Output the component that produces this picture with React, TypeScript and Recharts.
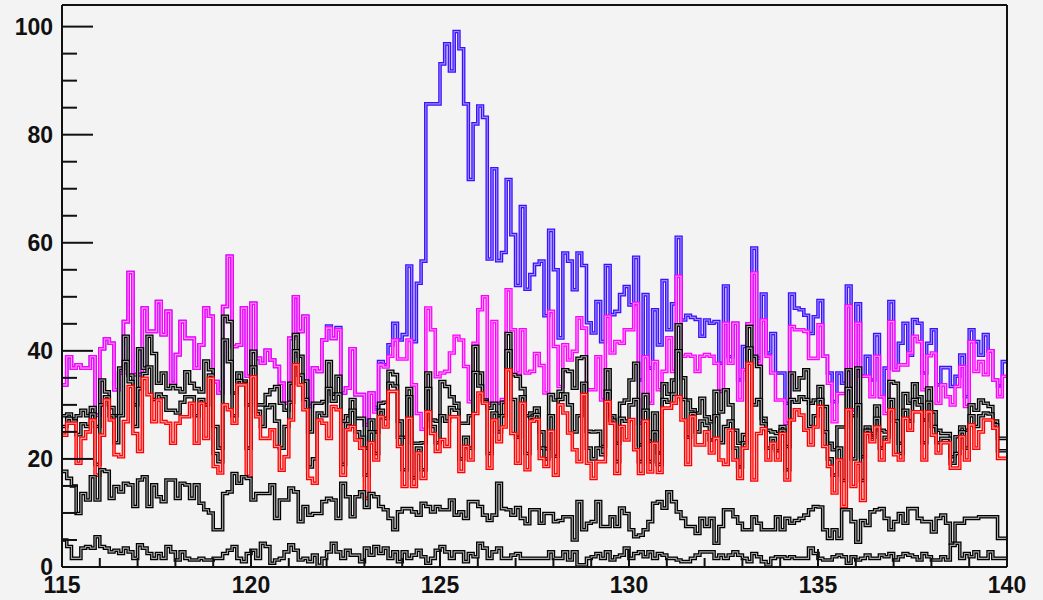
import React from 'react';
import { ComposedChart, Line, XAxis, YAxis } from 'recharts';

const X_MIN = 115;
const X_MAX = 140;
const BIN_WIDTH = 0.125;
const Y_MAX = 104;
const X_TICKS = Array.from({ length: 26 }, (_, i) => 115 + i);
const Y_TICKS = Array.from({ length: 21 }, (_, i) => i * 5);

// stacked histogram heights (top of each layer), 200 bins of 0.125
const BLUE = [
  33.7, 38.9, 36.8, 37.4, 36.8, 36.8, 38.9, 28.1, 40.4, 42.2,
  41.4, 32.8, 35.9, 45.4, 54.5, 35.6, 35.6, 47.9, 43.6, 43.6,
  49.1, 43.0, 47.3, 34.0, 39.3, 45.4, 42.3, 42.3, 36.8, 41.1,
  47.9, 46.4, 34.3, 32.2, 48.2, 57.5, 40.8, 41.1, 47.9, 35.3,
  48.8, 38.6, 37.7, 40.1, 38.3, 37.1, 34.0, 30.3, 42.3, 50.0,
  43.6, 46.4, 29.7, 36.8, 36.2, 42.0, 44.6, 42.3, 44.3, 32.2,
  33.1, 40.4, 31.9, 31.9, 26.3, 32.2, 29.5, 38.0, 37.4, 41.1,
  45.1, 42.0, 43.0, 55.7, 41.7, 52.5, 56.6, 85.7, 85.7, 85.7,
  93.1, 96.8, 91.8, 99.1, 95.9, 85.7, 71.7, 82.0, 85.3, 83.2,
  57.0, 73.7, 56.7, 58.2, 71.7, 61.5, 52.1, 66.7, 51.4, 54.1,
  56.0, 56.6, 46.5, 62.3, 55.0, 42.4, 58.1, 56.6, 51.3, 58.1,
  55.8, 45.2, 43.3, 49.1, 41.7, 55.8, 46.7, 47.3, 50.4, 51.9,
  48.5, 57.3, 34.6, 50.4, 36.8, 47.6, 41.1, 53.0, 43.9, 48.7,
  61.0, 45.7, 46.6, 46.2, 45.8, 42.7, 45.7, 45.1, 45.4, 37.7,
  52.0, 38.9, 45.1, 34.6, 40.8, 45.0, 59.0, 38.6, 50.5, 39.6,
  43.2, 35.9, 35.9, 30.3, 50.5, 47.9, 47.6, 46.6, 43.2, 46.3,
  49.3, 39.0, 35.9, 30.6, 35.9, 34.0, 52.0, 29.1, 48.7, 35.3,
  39.0, 34.6, 43.0, 31.5, 36.8, 49.1, 36.5, 41.4, 45.1, 39.2,
  45.8, 45.1, 35.9, 41.4, 43.9, 33.7, 36.9, 36.9, 33.4, 35.3,
  39.2, 31.5, 43.9, 41.7, 39.2, 43.0, 40.0, 34.6, 33.5, 38.0,
];

const MAGENTA = [
  33.7, 38.9, 36.8, 37.4, 36.8, 36.8, 38.9, 28.1, 40.4, 42.2,
  41.4, 32.8, 35.9, 45.4, 54.5, 35.6, 35.6, 47.9, 43.6, 43.6,
  49.1, 43.0, 47.3, 34.0, 39.3, 45.4, 42.3, 42.3, 36.8, 41.1,
  47.9, 46.4, 34.3, 32.2, 48.2, 57.5, 40.8, 41.1, 47.9, 35.3,
  48.8, 38.6, 37.7, 40.1, 38.3, 37.1, 34.0, 30.3, 42.3, 50.0,
  43.6, 46.4, 29.7, 36.8, 36.2, 42.0, 44.2, 42.3, 43.9, 32.2,
  33.1, 40.4, 31.9, 31.9, 26.3, 32.2, 28.7, 37.4, 37.0, 39.0,
  42.0, 38.5, 38.5, 42.0, 33.7, 28.4, 25.5, 47.9, 43.9, 35.2,
  35.9, 36.2, 39.6, 42.7, 42.0, 37.1, 30.6, 41.4, 47.6, 50.0,
  30.3, 45.4, 30.3, 31.0, 51.3, 43.9, 35.9, 43.9, 35.9, 36.2,
  39.5, 37.3, 32.2, 47.3, 40.8, 33.4, 41.1, 38.3, 39.9, 46.1,
  44.2, 32.8, 32.8, 38.9, 30.9, 46.4, 39.6, 41.7, 41.4, 43.9,
  43.9, 48.8, 26.6, 38.9, 30.3, 38.0, 32.8, 36.2, 42.4, 36.2,
  53.8, 39.0, 39.3, 39.0, 36.2, 39.0, 39.3, 39.0, 37.7, 32.5,
  45.1, 37.7, 45.1, 30.9, 36.5, 45.0, 54.4, 37.7, 45.7, 39.0,
  35.9, 30.9, 30.9, 26.6, 44.5, 43.9, 43.9, 43.6, 38.6, 38.6,
  44.8, 39.0, 34.0, 26.9, 32.1, 32.1, 48.3, 29.1, 45.1, 35.3,
  35.3, 31.5, 39.0, 31.5, 28.4, 45.4, 36.5, 37.4, 37.4, 39.6,
  42.7, 41.7, 32.8, 39.1, 39.6, 30.3, 33.7, 31.5, 30.0, 33.4,
  37.1, 29.7, 41.7, 36.2, 38.0, 35.6, 40.0, 34.6, 31.5, 35.3,
];

const BLACK_TOP = [
  28.0, 28.3, 27.4, 28.0, 29.0, 28.0, 29.5, 26.0, 34.6, 32.4,
  29.5, 28.0, 36.8, 42.7, 35.5, 30.0, 40.4, 36.8, 42.7, 39.5,
  34.0, 35.9, 33.0, 33.6, 33.0, 32.4, 36.1, 34.0, 33.0, 32.4,
  38.1, 36.5, 26.0, 22.0, 46.4, 45.4, 32.2, 35.9, 34.4, 30.0,
  39.9, 30.0, 30.0, 31.9, 32.8, 33.4, 30.3, 29.0, 34.0, 43.0,
  39.0, 34.4, 25.0, 30.3, 30.3, 30.6, 38.0, 32.0, 35.3, 27.0,
  28.0, 31.0, 27.5, 27.5, 22.0, 27.2, 25.0, 30.3, 30.5, 36.2,
  35.6, 27.0, 24.0, 33.0, 22.9, 22.9, 23.0, 35.9, 27.2, 27.0,
  34.3, 33.4, 31.5, 30.3, 26.6, 26.6, 28.0, 40.8, 35.9, 30.9,
  29.4, 30.3, 28.0, 30.5, 43.2, 35.6, 35.3, 33.0, 28.0, 28.5,
  29.4, 25.0, 21.9, 31.9, 30.9, 32.5, 36.5, 36.2, 33.1, 38.6,
  38.9, 25.1, 25.0, 25.1, 22.3, 36.5, 28.0, 22.9, 30.3, 30.9,
  34.6, 37.7, 22.6, 31.9, 23.3, 28.5, 21.1, 33.9, 32.0, 34.6,
  44.8, 35.0, 30.9, 29.1, 28.5, 31.2, 27.8, 26.9, 32.5, 28.7,
  32.8, 30.0, 25.3, 22.9, 24.5, 44.5, 39.0, 37.1, 27.5, 25.3,
  25.0, 24.7, 26.0, 22.3, 35.9, 32.8, 35.0, 36.5, 30.3, 30.9,
  33.4, 29.7, 22.9, 21.7, 25.9, 25.9, 36.5, 28.0, 36.8, 20.4,
  25.9, 24.7, 29.8, 25.3, 25.0, 34.3, 34.0, 22.9, 32.1, 30.3,
  33.9, 31.5, 27.2, 33.1, 28.7, 25.3, 24.7, 24.7, 20.4, 24.1,
  25.9, 25.3, 30.0, 29.0, 30.9, 30.3, 29.7, 27.0, 23.8, 23.8,
];

const BLACK_UPPER = [
  26.0, 27.5, 27.0, 24.5, 26.5, 26.0, 28.3, 19.0, 30.0, 31.5,
  28.0, 23.0, 28.0, 38.0, 34.3, 26.0, 33.0, 35.8, 37.0, 31.0,
  32.0, 31.5, 29.0, 29.0, 28.5, 30.5, 31.5, 31.5, 28.0, 31.0,
  30.0, 35.5, 21.0, 19.5, 42.0, 38.0, 28.0, 34.5, 34.0, 22.0,
  37.0, 28.8, 26.0, 29.5, 30.0, 27.0, 22.0, 26.0, 30.5, 40.0,
  35.5, 31.0, 18.5, 20.0, 28.5, 28.0, 33.0, 30.7, 32.0, 19.0,
  26.5, 29.0, 25.0, 24.0, 17.0, 25.0, 21.0, 29.0, 27.5, 34.0,
  33.5, 24.0, 18.0, 31.5, 16.5, 22.0, 18.0, 33.0, 26.0, 23.0,
  28.0, 27.0, 29.5, 29.0, 20.0, 24.0, 22.0, 36.0, 33.5, 30.6,
  21.0, 28.5, 25.0, 28.0, 40.0, 31.0, 24.0, 31.5, 21.0, 27.7,
  28.2, 22.0, 20.0, 28.0, 20.5, 31.0, 32.0, 30.0, 25.0, 28.0,
  34.0, 22.0, 20.0, 22.0, 20.8, 32.5, 27.2, 19.5, 27.5, 27.0,
  30.0, 31.0, 19.5, 29.0, 19.5, 25.0, 19.0, 31.0, 30.5, 32.0,
  40.0, 31.0, 24.0, 28.4, 25.0, 27.0, 26.2, 23.5, 28.0, 23.0,
  26.0, 27.0, 22.0, 18.5, 23.0, 40.5, 30.0, 31.0, 26.5, 22.0,
  23.8, 21.5, 25.3, 18.0, 31.0, 30.5, 31.5, 31.0, 26.0, 28.0,
  31.0, 25.0, 20.0, 17.0, 22.0, 16.0, 33.0, 20.0, 30.0, 16.0,
  25.3, 24.0, 27.5, 22.0, 24.0, 31.0, 27.0, 21.0, 29.0, 27.0,
  31.0, 30.0, 23.0, 30.5, 26.0, 23.0, 23.8, 23.8, 19.2, 21.0,
  25.0, 22.0, 28.0, 26.0, 28.0, 28.5, 28.3, 26.3, 21.5, 21.5,
];

const RED = [
  24.4, 26.6, 26.6, 19.2, 23.8, 25.0, 27.2, 17.0, 24.4, 30.9,
  27.2, 20.8, 20.4, 26.9, 33.4, 24.7, 21.4, 34.9, 31.9, 26.9,
  30.9, 26.9, 26.6, 22.9, 26.6, 27.8, 27.8, 30.3, 22.9, 30.3,
  23.8, 34.9, 18.6, 17.4, 30.0, 29.1, 26.6, 33.7, 33.7, 16.8,
  35.2, 27.8, 23.8, 23.8, 25.4, 22.3, 17.9, 20.4, 27.2, 37.4,
  33.7, 29.1, 16.4, 15.5, 27.2, 26.6, 23.8, 29.7, 29.1, 17.0,
  25.4, 26.0, 23.5, 22.0, 12.7, 23.0, 19.8, 27.8, 25.9, 32.5,
  32.5, 22.3, 14.9, 27.5, 14.9, 21.1, 16.4, 28.7, 24.7, 21.4,
  23.6, 22.3, 27.8, 27.8, 17.7, 22.3, 19.8, 28.4, 32.2, 30.3,
  18.3, 27.2, 23.2, 25.9, 36.5, 24.7, 19.2, 30.3, 18.0, 27.0,
  27.3, 20.1, 18.6, 25.1, 17.0, 30.0, 28.5, 24.8, 21.7, 19.5,
  31.9, 19.2, 16.4, 19.5, 19.5, 30.6, 26.6, 17.3, 26.0, 23.5,
  27.3, 21.7, 17.3, 27.0, 17.6, 22.9, 17.5, 29.4, 29.4, 30.3,
  31.5, 27.2, 19.0, 27.8, 22.6, 22.6, 25.0, 21.1, 23.8, 19.8,
  19.0, 25.3, 19.8, 16.4, 22.0, 37.7, 16.1, 24.7, 25.6, 19.8,
  22.9, 19.8, 24.7, 16.1, 27.2, 29.1, 28.1, 25.3, 22.6, 25.9,
  29.7, 22.3, 18.6, 13.7, 19.8, 11.2, 29.1, 14.9, 19.2, 12.3,
  24.7, 23.2, 25.9, 19.8, 23.2, 29.1, 20.8, 19.8, 27.5, 25.3,
  28.7, 28.7, 19.8, 28.7, 24.4, 21.1, 23.0, 23.0, 18.3, 18.3,
  24.1, 19.8, 26.3, 22.0, 25.0, 27.2, 27.2, 25.7, 20.1, 20.1,
];

const BLACK_MID = [
  17.7, 16.4, 15.0, 9.9, 13.6, 12.4, 16.7, 12.4, 18.0, 17.7,
  12.7, 14.9, 13.9, 15.5, 15.2, 11.2, 16.1, 16.7, 11.2, 15.2,
  13.0, 12.1, 16.1, 16.1, 12.7, 15.5, 15.2, 12.7, 15.2, 11.8,
  10.6, 10.0, 6.9, 6.9, 13.6, 13.9, 17.3, 15.5, 16.7, 16.4,
  12.4, 13.6, 13.6, 13.6, 15.2, 9.0, 12.4, 12.4, 14.6, 13.9,
  8.4, 11.2, 9.6, 9.9, 9.9, 12.1, 12.7, 12.4, 9.0, 15.5,
  13.0, 9.3, 13.0, 13.9, 11.0, 13.6, 13.0, 11.2, 10.6, 9.0,
  6.9, 10.2, 10.8, 10.8, 10.2, 9.6, 11.8, 11.2, 10.2, 11.2,
  10.6, 10.6, 12.4, 9.6, 10.2, 9.0, 12.1, 12.1, 11.2, 9.6,
  8.6, 9.6, 15.5, 10.8, 10.6, 9.6, 11.0, 9.0, 8.0, 10.6,
  10.6, 8.1, 9.9, 9.9, 8.4, 8.6, 9.3, 9.3, 5.0, 12.1,
  6.9, 8.1, 8.4, 12.1, 7.5, 7.5, 9.3, 7.5, 10.9, 9.9,
  6.9, 5.6, 5.9, 6.9, 8.4, 11.8, 12.1, 10.9, 13.9, 12.1,
  10.2, 9.0, 7.5, 7.5, 6.2, 9.0, 7.5, 9.0, 4.4, 7.5,
  10.6, 10.6, 9.3, 8.1, 6.9, 6.9, 9.3, 8.1, 6.9, 6.9,
  6.9, 9.3, 6.9, 9.0, 8.1, 8.6, 9.0, 9.6, 10.6, 11.2,
  11.1, 6.9, 5.3, 6.9, 5.3, 10.6, 10.6, 8.4, 4.6, 8.6,
  7.7, 10.2, 10.6, 10.8, 9.0, 6.9, 8.4, 9.9, 8.1, 10.8,
  10.8, 9.0, 8.4, 8.4, 6.5, 9.0, 9.6, 8.1, 4.4, 8.1,
  8.1, 9.0, 9.0, 9.0, 9.3, 9.3, 9.3, 9.3, 5.3, 5.3,
];

const BLACK_LOW = [
  5.0, 3.8, 1.6, 1.6, 3.5, 3.8, 3.5, 5.6, 3.8, 3.5,
  2.8, 3.1, 2.5, 3.5, 2.8, 1.6, 4.1, 3.5, 2.5, 1.6,
  2.5, 1.6, 3.8, 2.8, 1.3, 2.8, 1.6, 1.3, 1.3, 1.6,
  1.3, 1.3, 1.6, 1.6, 2.5, 3.1, 3.8, 1.6, 1.0, 2.5,
  3.1, 1.6, 4.4, 3.8, 0.7, 1.3, 1.6, 2.8, 4.1, 3.1,
  1.3, 1.6, 1.0, 2.2, 0.3, 1.6, 2.8, 4.4, 2.8, 1.6,
  3.1, 2.2, 2.2, 1.0, 3.5, 2.2, 3.8, 2.5, 3.5, 1.6,
  2.8, 1.0, 2.8, 1.6, 2.2, 3.1, 1.9, 0.7, 1.6, 3.1,
  3.8, 2.8, 1.6, 2.8, 2.8, 1.0, 2.5, 1.9, 4.4, 3.5,
  1.6, 2.8, 3.5, 1.6, 1.6, 2.2, 2.5, 1.6, 1.6, 1.6,
  1.6, 1.6, 1.6, 2.8, 1.6, 1.6, 2.8, 1.3, 2.8, 0.4,
  0.4, 1.6, 1.9, 2.5, 1.6, 2.8, 1.3, 1.9, 2.2, 3.5,
  1.6, 2.5, 2.8, 1.9, 2.8, 1.6, 2.5, 2.2, 1.6, 1.6,
  1.3, 1.0, 1.0, 1.6, 2.2, 2.8, 2.8, 2.8, 1.6, 2.2,
  1.6, 2.2, 2.8, 2.2, 1.6, 1.0, 2.5, 1.9, 1.0, 0.4,
  1.6, 1.9, 1.9, 1.6, 1.9, 1.6, 1.6, 1.6, 3.5, 2.5,
  1.6, 1.3, 1.3, 1.9, 2.2, 1.9, 0.7, 1.9, 1.3, 1.6,
  2.2, 1.6, 1.6, 2.2, 1.9, 2.5, 1.3, 1.9, 2.5, 2.2,
  1.9, 1.3, 2.5, 1.9, 1.3, 1.3, 1.9, 1.3, 4.0, 4.4,
  1.6, 2.5, 1.9, 2.8, 1.6, 1.6, 2.8, 1.6, 1.6, 1.6,
];

// drawn from the top of the stack down, so lower layers sit on top
const LAYERS = [
  { key: 'blue', color: '#3c10ff', inner: '#9f8dff' },
  { key: 'magenta', color: '#ff00ff', inner: '#ff94ff' },
  { key: 'blackTop', color: '#000000', inner: '#a8a8a8' },
  { key: 'blackUpper', color: '#000000', inner: '#a8a8a8' },
  { key: 'red', color: '#ff0000', inner: '#ff9a9a' },
  { key: 'blackMid', color: '#000000', inner: '#a8a8a8' },
  { key: 'blackLow', color: '#000000', inner: '#a8a8a8' },
];

const table = MAGENTA.map((_, i) => ({
  x: X_MIN + i * BIN_WIDTH,
  blue: BLUE[i],
  magenta: MAGENTA[i],
  blackTop: BLACK_TOP[i],
  blackUpper: BLACK_UPPER[i],
  red: RED[i],
  blackMid: BLACK_MID[i],
  blackLow: BLACK_LOW[i],
}));
table.push({ ...table[table.length - 1], x: X_MAX });

const FONT = "'Liberation Sans', Arial, Helvetica, sans-serif";
const AXIS_COLOR = '#111';

const XTick = (props: any) => {
  const { x, y, payload } = props;
  const v = payload.value;
  const major = v % 5 === 0;
  return (
    <g>
      <line x1={x} x2={x} y1={y} y2={y - (major ? 18 : 9)} stroke={AXIS_COLOR} strokeWidth={2} />
      {major && (
        <text x={x} y={y + 18} textAnchor="middle" dominantBaseline="central"
          fontFamily={FONT} fontWeight="bold" fontSize={23} fill="#111">{v}</text>
      )}
    </g>
  );
};

const YTick = (props: any) => {
  const { x, y, payload } = props;
  const v = payload.value;
  const major = v % 20 === 0;
  return (
    <g>
      <line x1={x} x2={x + (major ? 31 : 15)} y1={y} y2={y} stroke={AXIS_COLOR} strokeWidth={2} />
      {major && (
        <text x={x - 9} y={y} textAnchor="end" dominantBaseline="central"
          fontFamily={FONT} fontWeight="bold" fontSize={23} fill="#111">{v}</text>
      )}
    </g>
  );
};

export default function App() {
  return (
    <div style={{ position: 'absolute', left: 0, top: 0, width: 1043, height: 600, background: '#f3f3f3' }}>
      <ComposedChart width={1043} height={600} data={table}
        margin={{ top: 4, right: 35, bottom: 32, left: 61 }}>
        <XAxis dataKey="x" type="number" domain={[X_MIN, X_MAX]} ticks={X_TICKS} interval={0}
          tick={XTick} tickLine={false} tickSize={0} tickMargin={0} height={1}
          axisLine={{ stroke: AXIS_COLOR, strokeWidth: 2 }} allowDataOverflow />
        <XAxis xAxisId="top" orientation="top" dataKey="x" type="number" domain={[X_MIN, X_MAX]}
          tick={false} tickLine={false} height={1} axisLine={{ stroke: AXIS_COLOR, strokeWidth: 2 }} />
        <YAxis type="number" domain={[0, Y_MAX]} ticks={Y_TICKS} interval={0}
          tick={YTick} tickLine={false} tickSize={0} tickMargin={0} width={1}
          axisLine={{ stroke: AXIS_COLOR, strokeWidth: 2 }} allowDataOverflow />
        <YAxis yAxisId="right" orientation="right" type="number" domain={[0, Y_MAX]}
          tick={false} tickLine={false} width={1} axisLine={{ stroke: AXIS_COLOR, strokeWidth: 2 }} />
        {LAYERS.flatMap((l) => [
          <Line key={l.key + '-o'} dataKey={l.key} type="stepAfter" stroke={l.color} strokeWidth={3.6}
            strokeLinejoin="miter" strokeLinecap="butt" dot={false} activeDot={false} isAnimationActive={false} />,
          <Line key={l.key + '-i'} dataKey={l.key} type="stepAfter" stroke={l.inner} strokeWidth={1.1}
            strokeLinejoin="miter" strokeLinecap="butt" dot={false} activeDot={false} isAnimationActive={false} />,
        ])}
      </ComposedChart>
    </div>
  );
}
